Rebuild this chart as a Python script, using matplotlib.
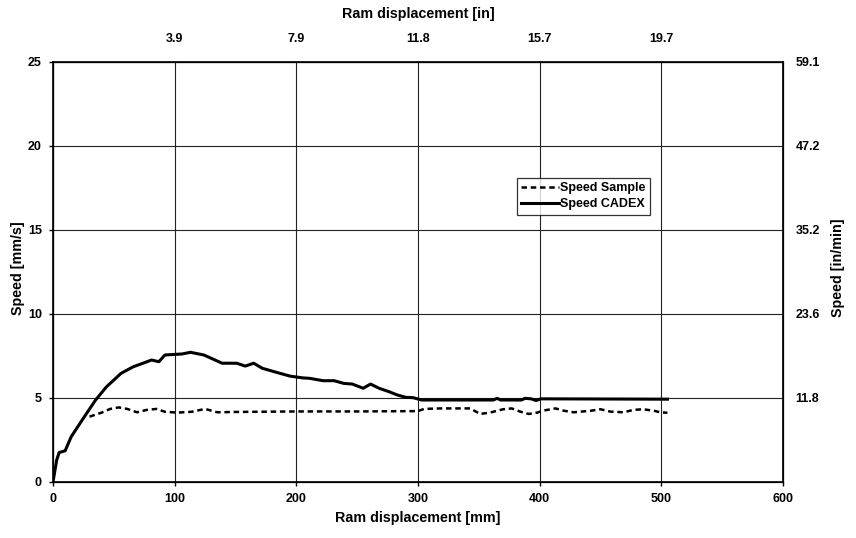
import matplotlib
matplotlib.use("Agg")
import matplotlib.pyplot as plt

plt.rcParams['font.family'] = ['Liberation Sans', 'DejaVu Sans']
plt.rcParams['font.weight'] = 'bold'

# Ram displacement [mm] and speed [mm/s] for the CADEX measurement
cadex_x = [0, 3, 5, 10, 15, 25, 35, 44, 56, 66, 74, 81, 87, 92, 106, 113, 124,
           139, 151, 158, 165, 172, 185, 195, 205, 211, 222, 231, 239, 246, 255,
           261, 268, 276, 283, 290, 296, 303, 362, 365, 368, 385, 388, 393, 397,
           401, 505]
cadex_y = [0, 1.3, 1.75, 1.86, 2.7, 3.8, 4.88, 5.67, 6.47, 6.86, 7.07, 7.26, 7.16,
           7.56, 7.62, 7.72, 7.56, 7.07, 7.07, 6.9, 7.07, 6.77, 6.5, 6.3, 6.2, 6.17,
           6.03, 6.03, 5.87, 5.83, 5.58, 5.83, 5.58, 5.38, 5.18, 5.04, 5.02, 4.88,
           4.88, 4.98, 4.88, 4.88, 4.98, 4.95, 4.85, 4.95, 4.93]

# Speed of the sample
sample_x = [30, 40, 47, 54, 61, 69, 77, 85, 92, 102, 114, 125, 135, 150, 200, 250,
            300, 305, 318, 343, 351, 359, 370, 377, 384, 391, 398, 403, 413, 420,
            428, 442, 450, 458, 469, 477, 485, 494, 499, 505]
sample_y = [3.89, 4.13, 4.35, 4.44, 4.35, 4.15, 4.29, 4.35, 4.18, 4.13, 4.18, 4.35,
            4.15, 4.17, 4.2, 4.2, 4.22, 4.35, 4.38, 4.38, 4.05, 4.13, 4.33, 4.38,
            4.19, 4.05, 4.13, 4.25, 4.38, 4.24, 4.15, 4.24, 4.33, 4.19, 4.15, 4.29,
            4.33, 4.24, 4.15, 4.12]

x_ticks = [0, 100, 200, 300, 400, 500, 600]
y_ticks = [0, 5, 10, 15, 20, 25]
top_ticks = [100, 200, 300, 400, 500]
top_labels = ['3.9', '7.9', '11.8', '15.7', '19.7']
right_ticks = [5, 10, 15, 20, 25]
right_labels = ['11.8', '23.6', '35.2', '47.2', '59.1']

TICK_FS = 9
LABEL_FS = 10.3

fig = plt.figure(figsize=(8.56, 5.38), dpi=100)
ax = fig.add_axes([53 / 856, 1 - 482 / 538, 730 / 856, 420 / 538])

ax.plot(sample_x, sample_y, color='black', lw=1.8, linestyle=(0, (2.2, 1.5)),
        label='Speed Sample', zorder=3)
ax.plot(cadex_x, cadex_y, color='black', lw=2.2, label='Speed CADEX', zorder=4)

ax.set_xlim(0, 600)
ax.set_ylim(0, 25)
ax.set_xticks(x_ticks)
ax.set_yticks(y_ticks)
ax.grid(True, color='#222222', lw=0.8)
ax.set_axisbelow(True)
for s in ax.spines.values():
    s.set_linewidth(1.2)
ax.tick_params(axis='x', labelsize=TICK_FS, length=3, width=1, direction='out', pad=5)
ax.tick_params(axis='y', labelsize=TICK_FS, length=3, width=1, direction='out', pad=5)
ax.set_xlabel('Ram displacement [mm]', fontsize=LABEL_FS, fontweight='bold')
ax.xaxis.set_label_coords(0.5, (482 - 518) / 420)
ax.xaxis.label.set_va('center')
ax.set_ylabel('Speed [mm/s]', fontsize=LABEL_FS, fontweight='bold')
ax.yaxis.set_label_coords((18 - 53) / 730, (482 - 268) / 420)
ax.yaxis.label.set_va('center')

# Inch scale on top
axt = ax.twiny()
axt.set_xlim(ax.get_xlim())
axt.set_xticks(top_ticks)
axt.set_xticklabels(top_labels)
axt.tick_params(labelsize=TICK_FS, length=0, pad=12)
axt.set_xlabel('Ram displacement [in]', fontsize=LABEL_FS, fontweight='bold')
axt.xaxis.set_label_coords(0.5, (482 - 14) / 420)
axt.xaxis.label.set_va('center')

# in/min scale on the right
axr = ax.twinx()
axr.set_ylim(ax.get_ylim())
axr.set_yticks(right_ticks)
axr.set_yticklabels(right_labels)
axr.tick_params(labelsize=TICK_FS, length=0, pad=9)
axr.set_ylabel('Speed [in/min]', fontsize=LABEL_FS, fontweight='bold')
axr.yaxis.set_label_coords((838 - 53) / 730, (482 - 268) / 420)
axr.yaxis.label.set_va('center')

leg = ax.legend(loc='upper left', bbox_to_anchor=((517 - 53) / 730, (482 - 178) / 420),
                fontsize=9, frameon=True, fancybox=False, edgecolor='black',
                handlelength=3.0, handletextpad=0.1, borderpad=0.35,
                labelspacing=0.3, borderaxespad=0)
leg.get_frame().set_linewidth(0.9)
for t in leg.get_texts():
    t.set_fontweight('bold')

fig.savefig('out.png', dpi=100, facecolor='white')
